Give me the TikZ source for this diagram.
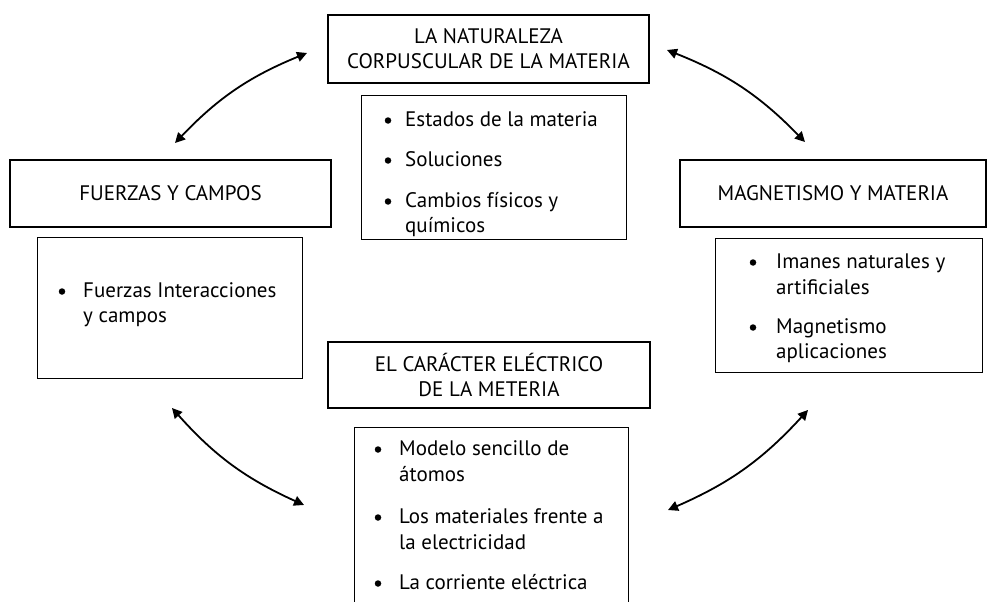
\documentclass[tikz,border=0pt]{standalone}
\usepackage{fontspec}
\setmainfont{PT Sans}
\usetikzlibrary{arrows.meta}
\begin{document}
\begin{tikzpicture}[x=1pt,y=-1pt,
  title/.style={draw, line width=1.6pt, align=center, inner sep=0pt,
    font=\fontsize{21}{25}\selectfont},
  content/.style={draw, line width=0.8pt, inner sep=0pt},
  itemtext/.style={anchor=base west, inner sep=0pt, font=\fontsize{21}{25}\selectfont},
  dot/.style={circle, fill, inner sep=0pt, minimum size=6.5pt},
  link/.style={line width=1.8pt, {Triangle[length=10pt,width=10pt]}-{Triangle[length=10pt,width=10pt]}}]
\useasboundingbox (0,0) rectangle (990,602);
\fill[white] (0,0) rectangle (990,602);

% title boxes
\node[title, minimum width=321pt, minimum height=68pt] (t1) at (488.5,49) {LA NATURALEZA\\CORPUSCULAR DE LA MATERIA};
\node[title, minimum width=321pt, minimum height=67pt] (t2) at (170.5,193.5) {FUERZAS Y CAMPOS};
\node[title, minimum width=306pt, minimum height=67pt] (t3) at (833,193.5) {MAGNETISMO Y MATERIA};
\node[title, minimum width=322pt, minimum height=66pt] (t4) at (489,375) {EL CARÁCTER ELÉCTRICO\\DE LA METERIA};

% content boxes
\node[content, minimum width=265pt, minimum height=144pt] (c1) at (493.5,167) {};
\node[content, minimum width=265pt, minimum height=141pt] (c2) at (169.5,307.5) {};
\node[content, minimum width=267pt, minimum height=134pt] (c3) at (848.5,305) {};
\begin{scope}
\clip (0,0) rectangle (990,602);
\node[content, minimum width=274pt, minimum height=200pt] (c4) at (491,527) {};
\end{scope}

% top content
\node[dot] (d11) at (388,120.5) {};
\node[itemtext] (i11) at (405,126) {Estados de la materia};
\node[dot] (d12) at (388,160.5) {};
\node[itemtext] (i12) at (405,166) {Soluciones};
\node[dot] (d13) at (388,201.5) {};
\node[itemtext] (i13) at (405,207) {Cambios físicos y};
\node[itemtext] (i14) at (405,232) {químicos};

% left content
\node[dot] (d21) at (62,291.5) {};
\node[itemtext] (i21) at (83,297) {Fuerzas Interacciones};
\node[itemtext] (i22) at (83,322) {y campos};

% right content
\node[dot] (d31) at (753,262.5) {};
\node[itemtext] (i31) at (776,268) {Imanes naturales y};
\node[itemtext] (i32) at (776,294) {artificiales};
\node[dot] (d32) at (753,327.5) {};
\node[itemtext] (i33) at (776,333) {Magnetismo};
\node[itemtext] (i34) at (776,358) {aplicaciones};

% bottom content
\node[dot] (d41) at (378,449.5) {};
\node[itemtext] (i41) at (399,455) {Modelo sencillo de};
\node[itemtext] (i42) at (399,481) {átomos};
\node[dot] (d42) at (378,517.5) {};
\node[itemtext] (i43) at (399,523) {Los materiales frente a};
\node[itemtext] (i44) at (399,549) {la electricidad};
\node[dot] (d43) at (378,583.5) {};
\node[itemtext] (i45) at (399,589) {La corriente eléctrica};

% arrow ends
\coordinate (a1s) at (307,53);
\coordinate (a1e) at (175,143);
\coordinate (a2s) at (667,50);
\coordinate (a2e) at (805,142);
\coordinate (a3s) at (172,408);
\coordinate (a3e) at (304,505);
\coordinate (a4s) at (808,410);
\coordinate (a4e) at (668,510);

\draw[link] (a1s) to[bend right=12] (a1e);
\draw[link] (a2s) to[bend left=12] (a2e);
\draw[link] (a3s) to[bend right=12] (a3e);
\draw[link] (a4s) to[bend left=12] (a4e);
\end{tikzpicture}
\end{document}
